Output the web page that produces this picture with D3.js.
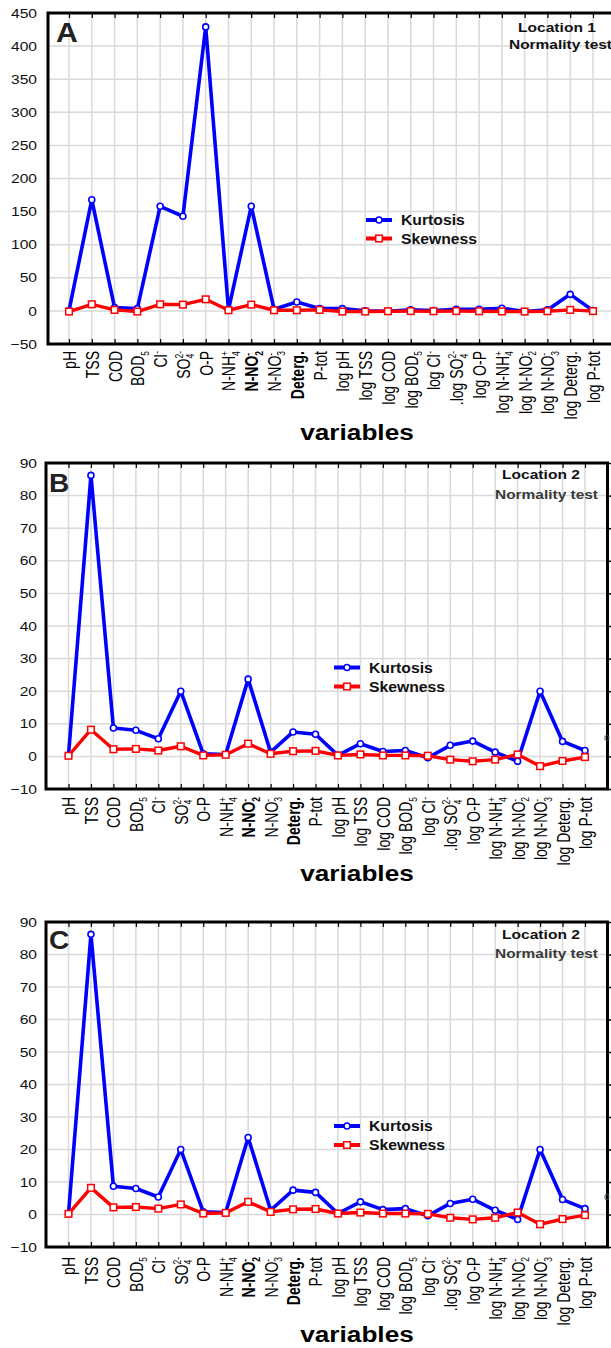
<!DOCTYPE html>
<html><head><meta charset="utf-8">
<script src="https://cdn.jsdelivr.net/npm/d3@7"></script>
<style>
body{margin:0;background:#fff}
svg{display:block}
text{font-family:"Liberation Sans",Arial,Helvetica,sans-serif}
</style>
</head><body>
<svg id="chart" width="611" height="1348"></svg>
<script>
// ---------- data ----------
const categories = ["pH","TSS","COD","BOD5","Cl-","SO4","O-P","N-NH4","N-NO2","N-NO3","Deterg.","P-tot",
  "log pH","log TSS","log COD","log BOD5","log Cl-","log SO4","log O-P","log N-NH4","log N-NO2","log N-NO3","log Deterg.","log P-tot"];
// tick labels: [base, subscript, superscript]
const tickLabels = [["pH"],["TSS"],["COD"],["BOD","5"],["Cl","","-"],["SO","4","2-"],["O-P"],["N-NH","4","+"],["N-NO","2","-"],["N-NO","3","-"],["Deterg."],["P-tot"],
  ["log pH"],["log TSS"],["log COD"],["log BOD","5"],["log Cl","","-"],[".log SO","4","2-"],["log O-P"],["log N-NH","4","+"],["log N-NO","2","-"],["log N-NO","3","-"],["log Deterg."],["log P-tot"]];
const boldLabels = ["N-NO2","Deterg."];
const seriesNames = ["Kurtosis","Skewness"];

const kurtosisLoc1 = [0.5,168,5,3.5,158,143,429,1.5,158,2.5,13.5,3.5,3.5,0,-0.5,1.5,0.5,2.5,2.5,4,-1,1.5,25,0.5];
const skewnessLoc1 = [-1,10,1.5,-1,10,9.5,17.5,1,9.5,1,1,1.5,-1,-1,-0.5,-0.3,-0.5,-0.3,-0.5,-0.8,-1,-0.5,1.5,-0.3];

const kurtosisLoc2 = [0.3,86.2,8.7,8.0,5.4,20.0,0.8,0.6,23.7,1.3,7.5,6.8,0.3,3.9,1.5,1.8,-0.4,3.4,4.7,1.3,-1.5,20.0,4.6,1.8];
const skewnessLoc2 = [0.2,8.2,2.2,2.3,1.8,3.1,0.3,0.5,3.9,0.8,1.6,1.7,0.3,0.6,0.3,0.3,0.2,-1.0,-1.5,-1.0,0.6,-3.0,-1.4,-0.2];

const yTicksLoc1 = [-50,0,50,100,150,200,250,300,350,400,450];
const yTicksLoc2 = [-10,0,10,20,30,40,50,60,70,80,90];

const panelLetters = ["A","B","C"];
const locationTitles = ["Location 1","Location 2","Location 2"];
const subTitle = "Normality test";
const xTitle = "variables";

// ---------- layout ----------
const panels = [
  {letter:panelLetters[0], loc:locationTitles[0], k:kurtosisLoc1, s:skewnessLoc1, ticks:yTicksLoc1, dom:[-50,450],
   top:13, bottom:344, left:48, right:618, x0:69, x1:593,
   legX:366, legY:220, legGap:18.5, labTop:351, titleY:440,
   letterPos:[56,41.5,28], locPos:[518,31.5], ntPos:[509,49], ntColor:"#111", stray:false},
  {letter:panelLetters[1], loc:locationTitles[1], k:kurtosisLoc2, s:skewnessLoc2, ticks:yTicksLoc2, dom:[-10,90],
   top:463, bottom:789, left:46, right:607.5, x0:68.5, x1:585,
   legX:334, legY:667.5, legGap:19, labTop:797, titleY:881,
   letterPos:[49,492,26], locPos:[502,479], ntPos:[495,499], ntColor:"#3a3a3a", stray:true},
  {letter:panelLetters[2], loc:locationTitles[2], k:kurtosisLoc2, s:skewnessLoc2, ticks:yTicksLoc2, dom:[-10,90],
   top:922, bottom:1247, left:46, right:607.5, x0:68.5, x1:585,
   legX:334, legY:1126, legGap:19, labTop:1257, titleY:1342,
   letterPos:[49,949,26], locPos:[502,938.5], ntPos:[495,958], ntColor:"#3a3a3a", stray:true}
];

const svg = d3.select("#chart");
const BLUE = "#0000ff", RED = "#ff0000", GRID = "#d9d9d9";

function stext(g, x, y, str, sx, opts){
  const t = g.append("text").attr("transform", `translate(${x},${y}) scale(${sx},1)`).text(str);
  Object.entries(opts||{}).forEach(([k,v]) => t.attr(k, v));
  return t;
}

panels.forEach(p => {
  const g = svg.append("g");
  const x = d3.scalePoint().domain(categories).range([p.x0, p.x1]);
  const y = d3.scaleLinear().domain(p.dom).range([p.bottom, p.top]);

  // grid
  g.append("g").selectAll("line.v").data(categories).join("line")
    .attr("x1", d => x(d)).attr("x2", d => x(d)).attr("y1", p.top).attr("y2", p.bottom)
    .attr("stroke", GRID).attr("stroke-width", 1.5);
  g.append("g").selectAll("line.h").data(p.ticks).join("line")
    .attr("x1", p.left).attr("x2", p.right).attr("y1", d => y(d)).attr("y2", d => y(d))
    .attr("stroke", GRID).attr("stroke-width", 1.5);

  // bottom axis (inward ticks) with custom labels
  const xa = g.append("g").attr("transform", `translate(0,${p.bottom})`)
    .call(d3.axisBottom(x).tickSize(-5).tickPadding(0));
  xa.select(".domain").remove();
  xa.selectAll(".tick line").attr("stroke", "#000").attr("stroke-width", 1.2);
  xa.selectAll(".tick text").each(function(d, i){
    const t = d3.select(this);
    const lab = tickLabels[i];
    t.text(null).attr("x", 0).attr("y", 0).attr("dy", null)
      .attr("transform", `translate(0,${p.labTop - p.bottom}) scale(1.28,1) rotate(-90)`)
      .attr("text-anchor", "end").attr("font-size", 14).attr("fill", "#000")
      .attr("font-weight", boldLabels.includes(d) ? "bold" : "normal");
    t.append("tspan").attr("dy", "0.36em").text(lab[0]);
    let shifted = 0;
    if (lab[1]) { t.append("tspan").attr("dy", 3.5).attr("font-size", 8.5).text(lab[1]); shifted += 3.5; }
    if (lab[2]) {
      const dxs = lab[1] ? -4.7 : 0.5;
      t.append("tspan").attr("dx", dxs).attr("dy", -shifted - 5.5).attr("font-size", 8.5).text(lab[2]);
    }
  });

  // top inward ticks
  g.append("g").attr("transform", `translate(0,${p.top})`)
    .call(d3.axisTop(x).tickSize(-5).tickFormat(""))
    .call(a => a.select(".domain").remove())
    .selectAll(".tick line").attr("stroke", "#000").attr("stroke-width", 1.2);

  // right outward ticks
  g.append("g").attr("transform", `translate(${p.right},0)`)
    .call(d3.axisRight(y).tickValues(p.ticks).tickSize(5).tickFormat(""))
    .call(a => a.select(".domain").remove())
    .selectAll(".tick line").attr("stroke", "#000").attr("stroke-width", 1.5);

  // left axis labels
  const ya = g.append("g").attr("transform", `translate(${p.left},0)`)
    .call(d3.axisLeft(y).tickValues(p.ticks).tickSize(0).tickPadding(0));
  ya.select(".domain").remove();
  ya.selectAll(".tick text")
    .attr("x", -(p.left - 37) / 1.2).attr("transform", "scale(1.2,1)")
    .attr("font-size", 13).attr("fill", "#111").attr("font-family", '"Liberation Sans",Arial,sans-serif');

  // frame
  g.append("rect").attr("x", p.left).attr("y", p.top)
    .attr("width", p.right - p.left).attr("height", p.bottom - p.top)
    .attr("fill", "none").attr("stroke", "#000").attr("stroke-width", 3);

  // series
  const line = d3.line().x((d, i) => x(categories[i])).y(d => y(d));
  g.append("path").datum(p.k).attr("d", line).attr("fill", "none")
    .attr("stroke", BLUE).attr("stroke-width", 3.6).attr("stroke-linejoin", "round");
  g.append("g").selectAll("circle").data(p.k).join("circle")
    .attr("cx", (d, i) => x(categories[i])).attr("cy", d => y(d)).attr("r", 3)
    .attr("fill", "#fff").attr("stroke", BLUE).attr("stroke-width", 1.6);
  g.append("path").datum(p.s).attr("d", line).attr("fill", "none")
    .attr("stroke", RED).attr("stroke-width", 3.4).attr("stroke-linejoin", "round");
  g.append("g").selectAll("rect").data(p.s).join("rect")
    .attr("x", (d, i) => x(categories[i]) - 3.3).attr("y", d => y(d) - 3.3)
    .attr("width", 6.6).attr("height", 6.6)
    .attr("fill", "#fff").attr("stroke", RED).attr("stroke-width", 1.5);

  // legend
  seriesNames.forEach((name, j) => {
    const ly = p.legY + j * p.legGap;
    const col = j === 0 ? BLUE : RED;
    g.append("line").attr("x1", p.legX).attr("x2", p.legX + 26).attr("y1", ly).attr("y2", ly)
      .attr("stroke", col).attr("stroke-width", 4);
    if (j === 0) {
      g.append("circle").attr("cx", p.legX + 13).attr("cy", ly).attr("r", 3)
        .attr("fill", "#fff").attr("stroke", col).attr("stroke-width", 1.6);
    } else {
      g.append("rect").attr("x", p.legX + 9.7).attr("y", ly - 3.3).attr("width", 6.6).attr("height", 6.6)
        .attr("fill", "#fff").attr("stroke", col).attr("stroke-width", 1.5);
    }
    stext(g, p.legX + 35, ly + 5.3, name, 1.05, {"font-size":15, "font-weight":"bold", "fill":"#111"});
  });

  // titles
  stext(g, p.letterPos[0], p.letterPos[1], p.letter, 1.08, {"font-size":p.letterPos[2], "font-weight":"bold", "fill":"#222"});
  stext(g, p.locPos[0], p.locPos[1], p.loc, 1.2, {"font-size":13, "font-weight":"bold", "fill":"#111"});
  stext(g, p.ntPos[0], p.ntPos[1], subTitle, 1.19, {"font-size":13, "font-weight":"bold", "fill":p.ntColor});
  stext(g, 357, p.titleY, xTitle, 1.19, {"font-size":22, "font-weight":"bold", "fill":"#000", "text-anchor":"middle"});
  if (p.stray) stext(g, 604, p.top + 278, "o", 1, {"font-size":10, "fill":"#444"});
});
</script>
</body></html>
